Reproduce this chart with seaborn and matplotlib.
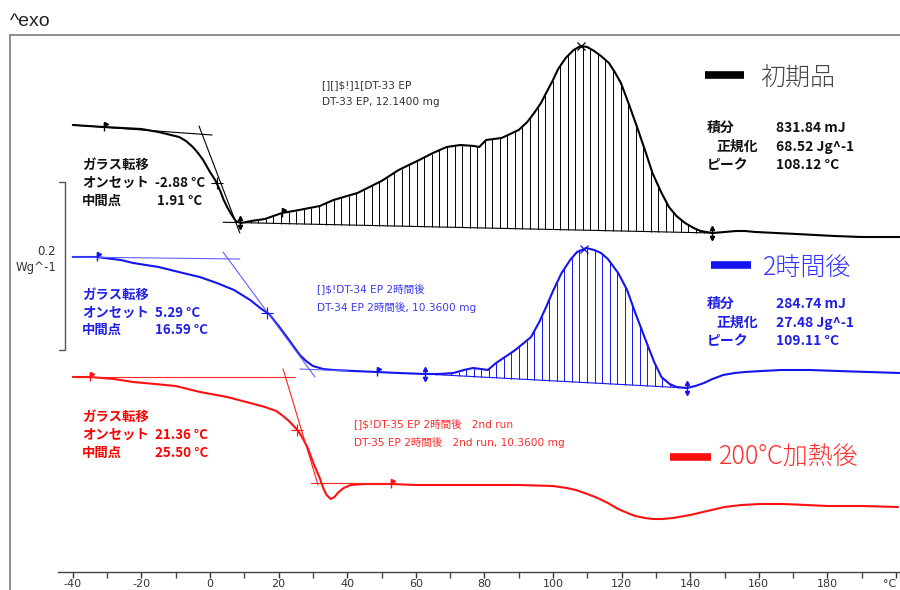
import numpy as np
import pandas as pd
import matplotlib
matplotlib.use("Agg")
import matplotlib.pyplot as plt
import matplotlib.transforms as mtrans
from matplotlib.lines import Line2D
import seaborn as sns

# ---------------- data (heat flow in display units: 168 units = 0.2 W/g, curves offset) ----------------
samples = ["初期品", "2時間後", "200°C加熱後"]
colors = ["#000000", "#1414f0", "#ff1010"]
tan_colors = ["#000000", "#6060ff", "#ff2020"]

black_T = [-40, -31, -20, -15, -9, -7, -5, -3.5, -2, 0, 1.5, 3, 4, 5, 6, 7.5, 9, 12, 16, 21, 26, 32, 36, 43, 50,
           55, 61, 65, 69, 73, 77, 78.5, 80.5, 85, 90, 92.5, 94.5, 96.5, 98, 100, 101.5, 103.7, 106, 108.1, 110, 112,
           114, 116.3, 118, 119.8, 122, 124.5, 127, 129, 131.5, 133.8, 136, 138.5, 141, 143, 146.5, 150,
           153.4, 156, 159, 165, 171, 182, 190, 201]
black_hf = [465, 463, 461, 458, 453, 449, 443, 437, 430, 418, 410, 399, 390, 383, 377, 369, 367, 369, 371, 377, 380, 384, 390, 397, 409,
            420, 430, 437, 443, 445, 444, 443, 450, 452, 460, 468, 477, 487, 497, 510, 521, 532, 540, 544, 543, 539,
            534, 527, 518, 507, 487, 463, 438, 417, 398, 383, 374, 367, 362, 359, 357, 358,
            359, 359, 358, 357, 356, 354, 353, 353]

blue_T = [-40, -33, -26, -22.4, -15, -7.9, -3, 2, 7, 11.7, 15, 17.2, 20, 22.4, 24.5, 26.2, 28, 30, 33, 36, 42, 48.6,
          55, 62.7, 67, 71, 74, 76.7, 79, 81, 83.4, 86, 89, 91.5, 93.6, 96, 98, 100, 102.5, 105, 107, 109.7,
          112, 114, 116, 119, 121.6, 124, 127, 129.5, 131.6, 134, 136, 139, 141.5, 144, 146.5, 149.6, 153, 156,
          161, 166.5, 175, 183, 192, 201]
blue_hf = [333, 333, 330, 327, 323, 317, 313, 307, 300, 290, 281, 276, 264, 253, 243, 235, 229, 224, 221, 220, 219, 218,
           217, 216, 216, 217, 220, 222, 221, 220, 227, 233, 240, 247, 253, 268, 283, 299, 317, 330, 338, 342,
           340, 337, 331, 317, 300, 277, 250, 228, 213, 206, 203, 202, 204, 207, 211, 215, 217, 218,
           219, 220, 220, 219, 218, 217]

red_T = [-40, -35, -28, -22.4, -16, -10, -2.9, 5, 11.7, 16, 19.3, 21.3, 23, 25.5, 27, 28.5, 30, 31, 32, 33, 34, 35.2,
         36.3, 37.5, 39, 41, 45, 52.8, 60, 70, 81, 90, 100, 104, 106.7, 110, 113, 116, 119, 121.7, 124, 126.8, 129,
         131.8, 135, 140, 145, 150, 155, 160.3, 167, 173.8, 180, 190, 200.6]
red_hf = [213, 213, 211, 208, 206, 204, 198, 193, 187, 183, 179, 174, 169, 160, 152, 142, 128, 120, 112, 102, 95, 91,
          93, 98, 102, 105, 106, 106, 105, 105, 105, 105, 104, 102, 100, 96, 92, 87, 81, 77, 74, 72, 71,
          71, 72, 75, 79, 83, 85, 86, 86, 85, 84, 84, 83]

# glass-transition evaluation lines (start/end points in °C, heat-flow units)
black_tangents = [[(-40, 465), (0.6, 455)], [(-3.2, 464), (8.7, 357)]]
blue_tangents = [[(-40.2, 333), (8.7, 331)], [(3.8, 338), (30.6, 213)], [(26.2, 221), (40, 219)]]
red_tangents = [[(-40, 213), (24.8, 213)], [(21.3, 221), (31.5, 105)], [(29.4, 107), (52.8, 107)]]

# evaluation limits
single_flags = [[-31, 21], [-33, 48.6], [-35, 52.8]]
double_flags = [[8.7, 146.5], [62.7, 139.0], []]

# glass transition results
gt_onset = ["-2.88 °C", "5.29 °C", "21.36 °C"]
gt_mid = ["1.91 °C", "16.59 °C", "25.50 °C"]
gt_mid_T = [1.91, 16.59, 25.50]

# peak integration (black, blue)
int_limits = [(8.7, 146.5, 3.8), (62.7, 139.0, 62.7)]
int_mJ = ["831.84 mJ", "284.74 mJ"]
int_norm = ["68.52 Jg^-1", "27.48 Jg^-1"]
int_peak = ["108.12 °C", "109.11 °C"]
peak_T = [108.12, 109.11]

sample_id = ["[][]$!]1[DT-33 EP", "[]$!DT-34 EP 2時間後", "[]$!DT-35 EP 2時間後   2nd run"]
sample_desc = ["DT-33 EP, 12.1400 mg", "DT-34 EP 2時間後, 10.3600 mg", "DT-35 EP 2時間後   2nd run, 10.3600 mg"]

tick_values = [-40, -20, 0, 20, 40, 60, 80, 100, 120, 140, 160, 180, 200]
tick_labels = ["-40", "-20", "0", "20", "40", "60", "80", "100", "120", "140", "160", "180", "°C"]
units_per_scale = 168  # = 0.2 W/g

# ---------------- style ----------------
sns.set_style("white")
JP = ["Noto Sans CJK JP", "DejaVu Sans"]
plt.rcParams["font.family"] = JP

W, H = 900, 590
fig = plt.figure(figsize=(9, 5.9), dpi=100)


def fx(px):
    return px / W


def fy(py):
    return 1 - py / H


def t_of_px(px):
    return (px - 210) / 3.43


ax = fig.add_axes([fx(10), 0, fx(900) - fx(10), 1 - 35 / H])

curves = [(black_T, black_hf), (blue_T, blue_hf), (red_T, red_hf)]
df = pd.concat([pd.DataFrame({"T": t, "hf": v, "sample": s}) for (t, v), s in zip(curves, samples)],
               ignore_index=True)
sns.lineplot(data=df, x="T", y="hf", hue="sample", palette=dict(zip(samples, colors)),
             estimator=None, sort=False, legend=False, lw=1.5, ax=ax)

# tangents
for tans, c in zip([black_tangents, blue_tangents, red_tangents], tan_colors):
    for (p0, p1) in tans:
        ax.plot([p0[0], p1[0]], [p0[1], p1[1]], color=c, lw=0.8)

# integration hatch + baseline
for i, (t0, t1, text0) in enumerate(int_limits):
    T, v = np.array(curves[i][0]), np.array(curves[i][1])
    b0, b1 = np.interp(t0, T, v), np.interp(t1, T, v)

    def base(t):
        return b0 + (b1 - b0) * (np.asarray(t) - t0) / (t1 - t0)

    ax.plot([text0, t1], [base(text0), b1], color=colors[i], lw=0.8)
    xs = np.arange(t0 + 1.0, t1, 2.2)
    ax.vlines(xs, base(xs), np.interp(xs, T, v), color=colors[i], lw=0.7)
    ax.plot([peak_T[i]], [np.interp(peak_T[i], T, v)], marker="x", ms=6, mew=0.9, color=colors[i])

# flags and midpoints
for i in range(3):
    T, v = curves[i]
    for t in single_flags[i]:
        y = np.interp(t, T, v)
        ax.plot([t], [y], marker="|", ms=6, mew=1, color=colors[i])
        tr = mtrans.offset_copy(ax.transData, fig=fig, x=1.5, y=2.5, units="points")
        ax.plot([t], [y], marker=">", ms=3, color=colors[i], transform=tr, clip_on=False)
    for t in double_flags[i]:
        y = np.interp(t, T, v)
        ax.plot([t], [y], marker="|", ms=9, mew=1, color=colors[i])
        tr_u = mtrans.offset_copy(ax.transData, fig=fig, x=0, y=3.5, units="points")
        tr_d = mtrans.offset_copy(ax.transData, fig=fig, x=0, y=-3.5, units="points")
        ax.plot([t], [y], marker="^", ms=3, color=colors[i], transform=tr_u)
        ax.plot([t], [y], marker="v", ms=3, color=colors[i], transform=tr_d)
    ax.plot([gt_mid_T[i]], [np.interp(gt_mid_T[i], T, v)], marker="+", ms=8, mew=0.8, color=colors[i])

# scale bar
sb_x = t_of_px(65)
sb_x0 = t_of_px(59)
sb_top, sb_bot = 408, 408 - units_per_scale
ax.plot([sb_x0, sb_x, sb_x, sb_x0], [sb_top, sb_top, sb_bot, sb_bot], color="#555555", lw=1)

# axes styling
ax.set_xlim(t_of_px(10), t_of_px(900))
ax.set_ylim(0, 555)
ax.set_xlabel("")
ax.set_ylabel("")
ax.set_yticks([])
for s in ["left", "top"]:
    ax.spines[s].set_color("#888888")
    ax.spines[s].set_linewidth(1.3)
ax.spines["right"].set_visible(False)
ax.spines["bottom"].set_position(("data", 18))
ax.spines["bottom"].set_bounds(t_of_px(58), t_of_px(900))
ax.spines["bottom"].set_color("#444444")
ax.spines["bottom"].set_linewidth(1.0)
ax.set_xticks(tick_values)
ax.set_xticklabels(tick_labels, fontfamily="DejaVu Sans")
ax.get_xticklabels()[-1].set_horizontalalignment("right")
ax.set_xticks(np.arange(-30, 200, 20), minor=True)
ax.tick_params(axis="x", which="major", direction="out", length=4, width=1, colors="#333333",
               labelsize=8, pad=1, bottom=True)
ax.tick_params(axis="x", which="minor", direction="out", length=4, width=1, colors="#444444", bottom=True)

# ---------------- texts ----------------
fig.text(fx(10), fy(21), "^exo", fontsize=14, family=["Liberation Sans", "DejaVu Sans"],
         color="#222222", va="center", ha="left")
fig.text(fx(56), fy(251), "0.2", fontsize=8.5, family=["DejaVu Sans"], color="#333333", ha="right", va="center")
fig.text(fx(56), fy(268), "Wg^-1", fontsize=8.5, family=["DejaVu Sans"], color="#333333", ha="right", va="center")

gt_rows = [(165, 183, 201), (295, 313, 330), (417, 435, 453)]
gt_cols = ["#111111", "#1f1fe6", "#ff0000"]
for i in range(3):
    r0, r1, r2 = gt_rows[i]
    kw = dict(fontsize=9.6, fontweight="bold", color=gt_cols[i], va="center", ha="left")
    fig.text(fx(82), fy(r0), "ガラス転移", **kw)
    fig.text(fx(82), fy(r1), "オンセット", **kw)
    fig.text(fx(82), fy(r2), "中間点", **kw)
    fig.text(fx(155), fy(r1), gt_onset[i], **kw)
    fig.text(fx(157 if i == 0 else 155), fy(r2), gt_mid[i], **kw)

desc_pos = [(322, 85, 102), (317, 290, 307), (354, 425, 442)]
desc_cols = ["#333333", "#3a3aee", "#ff2a2a"]
for i in range(3):
    x, y1, y2 = desc_pos[i]
    kw = dict(fontsize=7.6, family=["DejaVu Sans", "Noto Sans CJK JP"], color=desc_cols[i], va="center", ha="left")
    fig.text(fx(x), fy(y1), sample_id[i], **kw)
    fig.text(fx(x), fy(y2), sample_desc[i], **kw)

# legend-like labels
leg = [((705, 744), 75, 760, 78, "#000000", "#444444"),
       ((711, 751), 265, 763, 268, "#1414f0", "#3535ff"),
       ((670, 711), 457, 719, 457, "#ff1010", "#ff2a2a")]
for i, ((x0, x1), yb, xt, yt, cb, ct) in enumerate(leg):
    fig.add_artist(Line2D([fx(x0), fx(x1)], [fy(yb), fy(yb)], color=cb, lw=5.5, solid_capstyle="butt"))
    fig.text(fx(xt), fy(yt), samples[i], fontsize=18, fontweight="light", color=ct, va="center", ha="left")

int_rows = [(128, 147, 165), (304, 323, 341)]
int_cols = ["#111111", "#1f1fe6"]
for i in range(2):
    r0, r1, r2 = int_rows[i]
    kw = dict(fontsize=10, fontweight="bold", color=int_cols[i], va="center", ha="left")
    fig.text(fx(707), fy(r0), "積分", **kw)
    fig.text(fx(716), fy(r1), "正規化", **kw)
    fig.text(fx(707), fy(r2), "ピーク", **kw)
    fig.text(fx(776), fy(r0), int_mJ[i], **kw)
    fig.text(fx(776), fy(r1), int_norm[i], **kw)
    fig.text(fx(776), fy(r2), int_peak[i], **kw)

fig.savefig("out.png", dpi=100)
